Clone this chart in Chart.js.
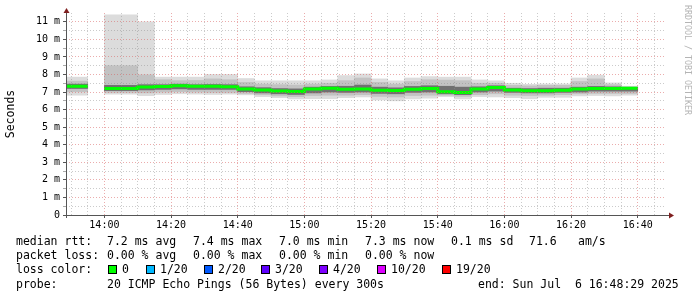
<!DOCTYPE html>
<html><head><meta charset="utf-8">
<script src="https://cdn.jsdelivr.net/npm/chart.js@4"></script>
<style>
html,body{margin:0;padding:0;background:#fff;}
#wrap{position:relative;width:697px;height:297px;overflow:hidden;background:#fff;}
#c{position:absolute;left:0;top:0;}
.t{position:absolute;font-family:'DejaVu Sans Mono',monospace;font-size:11.5px;line-height:14px;white-space:pre;color:#000;}
.sq{position:absolute;width:7px;height:7px;border:1px solid #000;}
#wm{position:absolute;left:683px;top:5px;font-family:'DejaVu Sans Mono',monospace;font-size:8.3px;line-height:10px;color:#b4b4b4;writing-mode:vertical-rl;white-space:pre;}
</style></head><body>
<div id="wrap">
<canvas id="c" width="697" height="297"></canvas>
<div id="wm">RRDTOOL / TOBI OETIKER</div>
<div id="legend"></div>
</div>
<script>
// 5-minute slots (start times)
const slots = ['13:45','13:50','13:55','14:00','14:05','14:10','14:15','14:20','14:25','14:30','14:35',
  '14:40','14:45','14:50','14:55','15:00','15:05','15:10','15:15','15:20','15:25','15:30','15:35',
  '15:40','15:45','15:50','15:55','16:00','16:05','16:10','16:15','16:20','16:25','16:30','16:35'];
// values in ms
const median = [7.33,7.33,null,7.20,7.20,7.29,7.31,7.36,7.33,7.33,7.30,
  7.17,7.11,7.06,7.03,7.17,7.21,7.16,7.17,7.10,7.09,7.16,7.20,
  7.02,6.97,7.18,7.26,7.12,7.08,7.08,7.10,7.17,7.20,7.20,7.22];
const maxRtt = [7.85,7.85,null,11.4,11.4,11.0,7.85,7.85,7.85,8.0,8.0,
  7.77,7.64,7.64,7.64,7.64,7.69,7.94,8.03,7.75,7.64,7.8,7.88,
  7.85,7.85,7.69,7.64,7.5,7.44,7.46,7.46,7.8,7.96,7.52,7.33];
const upper2 = [7.62,7.62,null,8.5,8.5,7.98,7.7,7.65,7.66,7.75,7.7,
  7.55,7.45,7.42,7.4,7.45,7.5,7.65,7.8,7.55,7.45,7.6,7.7,
  7.68,7.65,7.5,7.5,7.38,7.35,7.38,7.38,7.6,7.75,7.42,7.3];
const upper3 = [7.45,7.45,null,7.38,7.38,7.42,7.42,7.45,7.42,7.43,7.42,
  7.3,7.25,7.2,7.18,7.28,7.32,7.33,7.4,7.28,7.24,7.32,7.36,
  7.33,7.28,7.3,7.36,7.22,7.2,7.22,7.22,7.28,7.32,7.3,7.27];
const lower3 = [7.2,7.2,null,7.08,7.08,7.12,7.15,7.18,7.15,7.15,7.15,
  7.02,6.95,6.9,6.86,6.95,7.0,6.98,7.0,6.92,6.9,6.98,7.0,
  6.9,6.85,7.0,7.05,6.98,6.95,6.95,6.98,7.0,7.05,7.05,7.05];
const lower2 = [7.02,7.02,null,6.98,6.98,6.95,7.0,7.02,7.0,6.98,6.98,
  6.92,6.85,6.78,6.74,6.8,6.82,6.82,6.85,6.75,6.72,6.8,6.82,
  6.82,6.75,6.85,6.9,6.82,6.8,6.82,6.85,6.9,6.92,6.92,6.92];
const minRtt = [6.82,6.82,null,6.88,6.88,6.8,6.86,6.9,6.88,6.86,6.88,
  6.84,6.74,6.68,6.61,6.62,6.62,6.68,6.72,6.55,6.5,6.61,6.65,
  6.74,6.61,6.74,6.72,6.68,6.62,6.7,6.7,6.78,6.8,6.78,6.82];

const xTickLabels = ['14:00','14:20','14:40','15:00','15:20','15:40','16:00','16:20','16:40'];
const yTickLabels = ['0','1 m','2 m','3 m','4 m','5 m','6 m','7 m','8 m','9 m','10 m','11 m'];
const startTime = '13:48:29', endTime = '16:48:29';

const legendRows = [
  {y:234, items:[[16,'median rtt:'],[107,'7.2 ms avg'],[193,'7.4 ms max'],[279,'7.0 ms min'],[365,'7.3 ms now'],[451,'0.1 ms sd'],[529,'71.6'],[578,'am/s']]},
  {y:248, items:[[16,'packet loss:'],[107,'0.00 % avg'],[193,'0.00 % max'],[279,'0.00 % min'],[365,'0.00 % now']]},
  {y:262, items:[[16,'loss color:']]},
  {y:277, items:[[16,'probe:'],[107,'20 ICMP Echo Pings (56 Bytes) every 300s'],[478,'end: Sun Jul  6 16:48:29 2025']]}
];
const lossLabels = ['0','1/20','2/20','3/20','4/20','10/20','19/20'];
const lossColors = ['#00ff00','#00b8ff','#0059ff','#5e00ff','#7e00ff','#dd00ff','#ff0000'];
const lossX = [108,146,204,261,319,377,442];

// legend (HTML text)
const lg = document.getElementById('legend');
legendRows.forEach(r => r.items.forEach(([x,s]) => {
  const d = document.createElement('div'); d.className='t'; d.style.left=x+'px'; d.style.top=r.y+'px'; d.textContent=s; lg.appendChild(d);
}));
lossLabels.forEach((s,i) => {
  const q = document.createElement('div'); q.className='sq'; q.style.left=lossX[i]+'px'; q.style.top='265px'; q.style.background=lossColors[i]; lg.appendChild(q);
  const d = document.createElement('div'); d.className='t'; d.style.left=(lossX[i]+14)+'px'; d.style.top='262px'; d.textContent=s; lg.appendChild(d);
});

const toMin = s => { const p = s.split(':').map(Number); return p[0]*60 + p[1] + (p[2]||0)/60 - 13*60; };
const STEP = 5;
const band = (lo, hi) => slots.map((s,i) => lo[i]==null ? null : {x: toMin(s)+STEP/2, y:[lo[i],hi[i]]}).filter(Boolean);
const medLine = [];
slots.forEach((s,i) => {
  const t = toMin(s);
  if (median[i] == null) { medLine.push({x:t, y:null}); return; }
  medLine.push({x:t, y:median[i]}, {x:t+STEP, y:median[i]});
});

const MAJ = 'rgba(215,90,90,0.5)', MIN = 'rgba(140,140,140,0.45)';
const barCommon = {grouped:false, barPercentage:1, categoryPercentage:1, borderWidth:0};

const axesPlugin = {
  id:'axes',
  afterDraw(chart){
    const {ctx, chartArea:a} = chart;
    ctx.save();
    ctx.strokeStyle='#555'; ctx.lineWidth=1;
    ctx.beginPath();
    ctx.moveTo(a.left-3, a.bottom+0.5); ctx.lineTo(a.right+4, a.bottom+0.5);
    ctx.moveTo(a.left+0.5, a.bottom+3); ctx.lineTo(a.left+0.5, a.top);
    ctx.stroke();
    ctx.fillStyle='#7f1f1f';
    ctx.beginPath(); ctx.moveTo(a.right+3, a.bottom-2.5); ctx.lineTo(a.right+8, a.bottom+0.5); ctx.lineTo(a.right+3, a.bottom+3.5); ctx.closePath(); ctx.fill();
    ctx.beginPath(); ctx.moveTo(a.left-2.5, a.top); ctx.lineTo(a.left+0.5, a.top-5); ctx.lineTo(a.left+3.5, a.top); ctx.closePath(); ctx.fill();
    ctx.restore();
  }
};

new Chart(document.getElementById('c'), {
  type:'bar',
  data:{datasets:[
    {type:'line', data:medLine, borderColor:'#00ff00', borderWidth:3, pointRadius:0, tension:0, spanGaps:false, order:0, borderCapStyle:'butt'},
    Object.assign({data:band(lower3,upper3), backgroundColor:'#707070', order:1}, barCommon),
    Object.assign({data:band(lower2,upper2), backgroundColor:'#c2c2c2', order:2}, barCommon),
    Object.assign({data:band(minRtt,maxRtt), backgroundColor:'#dcdcdc', order:3}, barCommon)
  ]},
  options:{
    responsive:false, animation:false, events:[],
    layout:{padding:{left:0, right:31, top:13, bottom:0}},
    plugins:{legend:{display:false}, tooltip:{enabled:false}},
    scales:{
      x:{type:'linear', min:toMin(startTime), max:toMin(endTime), offset:false,
        afterBuildTicks:s => { const t=[]; for(let v=50; v<=225; v+=STEP) t.push({value:v}); s.ticks=t; },
        afterFit:s => { s.height = 82; },
        ticks:{autoSkip:false, maxRotation:0, padding:1, color:'#000', font:{family:'DejaVu Sans Mono', size:10},
          callback:v => (v-60)%20===0 && v>=60 ? xTickLabels[(v-60)/20] : ''},
        grid:{z:1, offset:false, color:c => (c.tick && (c.tick.value-60)%20===0) ? MAJ : MIN,
          tickLength:3, tickColor:c => (c.tick && (c.tick.value-60)%20===0) ? '#555' : 'rgba(0,0,0,0)'},
        border:{display:false, dash:[1,2]}
      },
      y:{min:0, max:11.5,
        afterBuildTicks:s => { const t=[]; for(let i=0;i<=22;i++) t.push({value:i/2}); s.ticks=t; },
        afterFit:s => { s.width = 66; },
        ticks:{autoSkip:false, padding:3, color:'#000', font:{family:'DejaVu Sans Mono', size:10},
          callback:v => Number.isInteger(v) ? yTickLabels[v] : ''},
        grid:{z:1, color:c => (c.tick && Number.isInteger(c.tick.value)) ? MAJ : MIN,
          tickLength:3, tickColor:c => (c.tick && Number.isInteger(c.tick.value)) ? '#555' : '#aaa'},
        border:{display:false, dash:[1,2]},
        title:{display:true, text:'Seconds', color:'#000', font:{family:'DejaVu Sans Mono', size:11.5}, padding:{top:4, bottom:0}}
      }
    }
  },
  plugins:[axesPlugin]
});
</script>
</body></html>
